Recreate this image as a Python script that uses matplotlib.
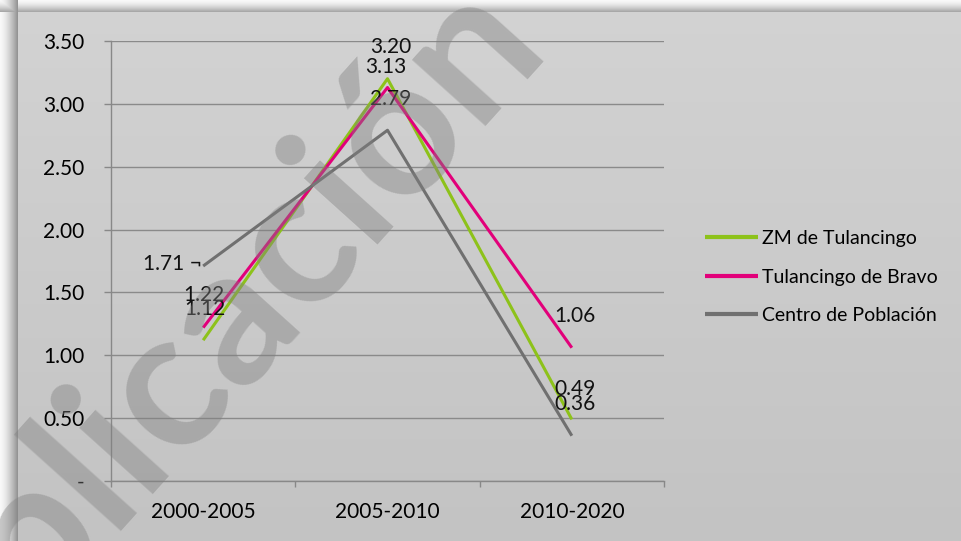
import numpy as np
import matplotlib
matplotlib.use("Agg")
import matplotlib.pyplot as plt

plt.rcParams['font.family'] = ['Lato', 'DejaVu Sans']

# data
periods = ["2000-2005", "2005-2010", "2010-2020"]
series_names = ["ZM de Tulancingo", "Tulancingo de Bravo", "Centro de Población"]
zm_tulancingo = [1.12, 3.20, 0.49]
tulancingo_bravo = [1.22, 3.13, 1.06]
centro_poblacion = [1.71, 2.79, 0.36]
y_ticks = [0, 0.5, 1.0, 1.5, 2.0, 2.5, 3.0, 3.5]
y_tick_labels = ["-", "0.50", "1.00", "1.50", "2.00", "2.50", "3.00", "3.50"]
watermark = "Publicación"

colors = ["#8DC21A", "#E2007A", "#707070"]
# label offsets in pixels (dx, dy) for each point
label_offsets = [
    [(2, 31), (3, 32), (3, 30)],
    [(1, 33), (-2, 21), (3, 32)],
    [(-1, 2), (3, 31), (3, 32)],
]

W, H = 961, 541
fig = plt.figure(figsize=(W / 100, H / 100), dpi=100)

# background with soft shadow at left/top edge
bg = np.zeros((H, W))
yy = np.linspace(0, 1, H)[:, None]
bg[:] = 211 - 16 * yy
left = 18
top = 12
for i in range(left):
    t = i / (left - 1)
    bg[:, i] = 248 - 100 * t ** 1.5
for j in range(top):
    t = j / (top - 1)
    bg[j, left:] = 248 - 80 * t ** 1.5
    bg[j, :left] = np.minimum(bg[j, :left], 248 - 80 * t ** 1.5)
bg_ax = fig.add_axes([0, 0, 1, 1], zorder=-10)
bg_ax.imshow(np.dstack([bg, bg, bg]) / 255.0, aspect='auto', extent=[0, 1, 0, 1])
bg_ax.axis('off')

ax = fig.add_axes([111 / W, 1 - 481 / H, 553 / W, 440 / H])
ax.set_facecolor('none')

x = np.arange(len(periods))
all_series = [zm_tulancingo, tulancingo_bravo, centro_poblacion]
for k, (vals, name) in enumerate(zip(all_series, series_names)):
    ax.plot(x, vals, color=colors[k], lw=2.2, label=name, solid_capstyle='butt', zorder=3)
    for i, v in enumerate(vals):
        dx, dy = label_offsets[k][i]
        if k == 2 and i == 0:
            ax.annotate(f"{v:.2f} ¬", (x[i], v), xytext=(dx, dy), textcoords='offset pixels',
                        ha='right', va='center', fontsize=15, color='#111111', zorder=4)
        else:
            ax.annotate(f"{v:.2f}", (x[i], v), xytext=(dx, dy), textcoords='offset pixels',
                        ha='center', va='center', fontsize=15, color='#111111', zorder=4)

ax.set_xlim(-0.5, len(periods) - 0.5)
ax.set_ylim(0, 3.5)
ax.set_xticks(x)
ax.set_xticklabels(periods, fontsize=15)
ax.set_xticks(np.arange(-0.5, len(periods), 1.0), minor=True)
ax.tick_params(axis='x', which='major', length=0, pad=15)
ax.tick_params(axis='x', which='minor', length=4.5, color='#888888', width=1)
ax.set_yticks(y_ticks)
ax.set_yticklabels(y_tick_labels, fontsize=15)
ax.tick_params(axis='y', length=5, color='#888888', width=1, pad=14)
ax.grid(axis='y', color='#8a8a8a', lw=1.0)
ax.set_axisbelow(True)
for s in ['top', 'right']:
    ax.spines[s].set_visible(False)
for s in ['left', 'bottom']:
    ax.spines[s].set_color('#888888')
    ax.spines[s].set_linewidth(1.0)

fig.legend(loc='center left', bbox_to_anchor=(705 / W, 1 - 277 / H), frameon=False,
           fontsize=14, handlelength=2.75, handletextpad=0.2, labelspacing=1.1,
           borderpad=0, borderaxespad=0)
for line in fig.legends[0].get_lines():
    line.set_linewidth(3)

# watermark
fig.text(505 / W, 1 - 4 / H, watermark, fontsize=140, fontweight='bold', color='#808080',
         alpha=0.42, rotation=48, rotation_mode='anchor', ha='right', va='center', zorder=10)

fig.savefig("out.png", dpi=100)
